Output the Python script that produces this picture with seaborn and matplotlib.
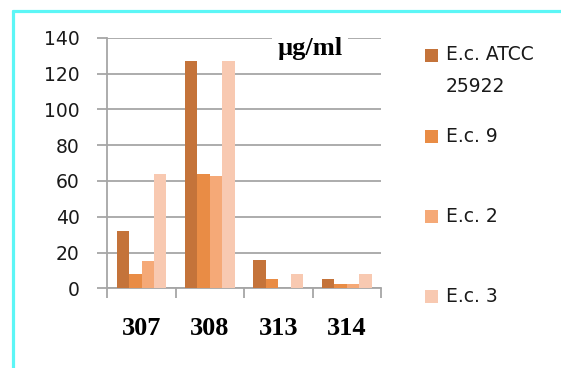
import matplotlib
matplotlib.use("Agg")
import matplotlib.pyplot as plt
from matplotlib.patches import Rectangle
from matplotlib.lines import Line2D
import numpy as np
import pandas as pd
import seaborn as sns

# MIC values (µg/ml) per compound and strain
compounds = ["307", "308", "313", "314"]
strains = ["E.c. ATCC\n25922", "E.c. 9", "E.c. 2", "E.c. 3"]
ec_atcc = [32, 127, 16, 5]
ec_9 = [8, 64, 5, 2.5]
ec_2 = [15, 63, 0, 2.5]
ec_3 = [64, 127, 8, 8]
colors = ["#C4733A", "#E98C45", "#F5A977", "#F8C9B1"]
yticks = [0, 20, 40, 60, 80, 100, 120, 140]
unit_label = "µg/ml"

rows = []
for strain, vals in zip(strains, [ec_atcc, ec_9, ec_2, ec_3]):
    for comp, v in zip(compounds, vals):
        rows.append({"compound": comp, "strain": strain, "mic": v})
df = pd.DataFrame(rows)

sns.set_theme(style="white")
plt.rcParams["font.family"] = ["DejaVu Sans"]

W, H = 561, 368
fig = plt.figure(figsize=(W / 100, H / 100), dpi=100)
fig.patch.set_facecolor("white")


def fx(px):
    return px / W


def fy(py):
    return 1 - py / H


ax = fig.add_axes([fx(107.3), fy(288.3), fx(381.0) - fx(107.3), fy(37.7) - fy(288.3)])

sns.barplot(data=df, x="compound", y="mic", hue="strain", order=compounds,
            hue_order=strains, palette=colors, saturation=1, width=0.73,
            linewidth=0, edgecolor="none", legend=False, ax=ax, zorder=3)

grid_c = "#A6A6A6"
ax.set_xlim(-0.5, 3.5)
ax.set_ylim(0, 140)
ax.set_yticks(yticks)
ax.set_yticklabels([str(t) for t in yticks], fontsize=13.5, color="#1a1a1a")
ax.set_xticks(range(len(compounds)))
ax.set_xticklabels(compounds, fontsize=19, fontweight="bold",
                   family="Liberation Serif", color="black")
ax.set_xticks(np.arange(-0.5, len(compounds), 1.0), minor=True)
ax.tick_params(axis="x", which="major", bottom=True, length=0, pad=21)
ax.tick_params(axis="x", which="minor", bottom=True, length=7, width=1.3,
               color=grid_c, direction="out")
ax.tick_params(axis="y", which="major", left=True, length=7, width=1.3,
               color=grid_c, direction="out", pad=13)
ax.set_xlabel("")
ax.set_ylabel("")
ax.yaxis.grid(True, color=grid_c, linewidth=1.3)
ax.set_axisbelow(True)
for side in ["top", "right"]:
    ax.spines[side].set_visible(False)
for side in ["left", "bottom"]:
    ax.spines[side].set_color(grid_c)
    ax.spines[side].set_linewidth(1.3)

ax.text(0.74, 0.955, unit_label, transform=ax.transAxes, ha="center",
        va="center", fontsize=19, fontweight="bold",
        family="Liberation Serif", color="black", zorder=5,
        bbox=dict(boxstyle="square,pad=0.2", facecolor="white",
                  edgecolor="none"))

# legend entries drawn at the right of the plot
entry_y = [55, 136, 216, 296]
line_gap = 32
for label, col, yc in zip(strains, colors, entry_y):
    sq = 13
    fig.add_artist(Rectangle((fx(425), fy(yc + sq / 2)), sq / W, sq / H,
                             transform=fig.transFigure, facecolor=col,
                             edgecolor="none"))
    for i, part in enumerate(label.split("\n")):
        fig.text(fx(446), fy(yc + i * line_gap), part, ha="left",
                 va="center", fontsize=13.5, color="#1a1a1a")

# cyan frame along the top and left edges
frame_c = "#5CF6F6"
fig.add_artist(Line2D([fx(12.5), 1.0], [fy(11), fy(11)], color=frame_c,
                      linewidth=2.3, transform=fig.transFigure))
fig.add_artist(Line2D([fx(12.5), fx(12.5)], [fy(11), 0.0], color=frame_c,
                      linewidth=2.3, transform=fig.transFigure))

fig.savefig("out.png", dpi=100, facecolor="white")
